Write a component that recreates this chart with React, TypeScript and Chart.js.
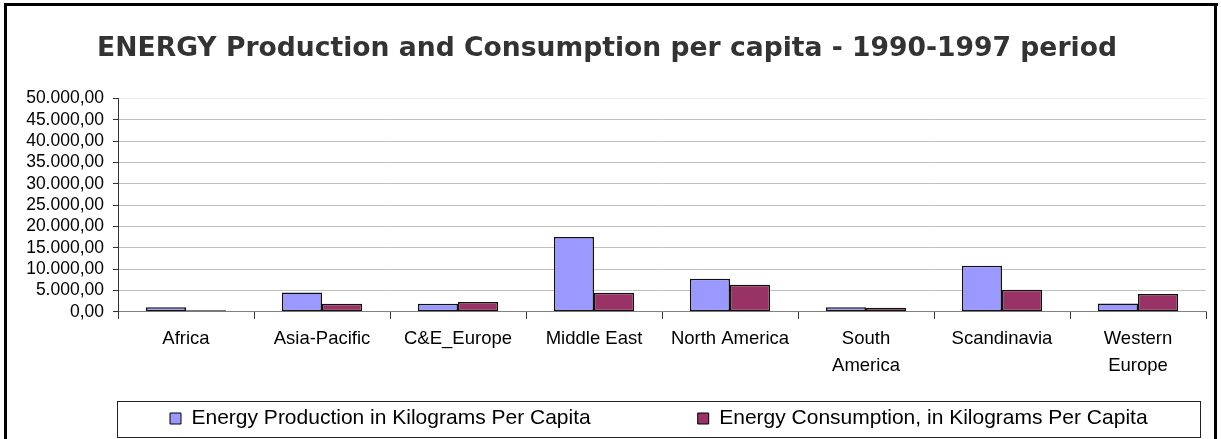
import React, { useEffect, useRef } from 'react';
import { Chart, registerables } from 'chart.js';

Chart.register(...registerables);

const titleText = 'ENERGY Production and Consumption per capita - 1990-1997 period';

const categories = [
  'Africa',
  'Asia-Pacific',
  'C&E_Europe',
  'Middle East',
  'North America',
  'South America',
  'Scandinavia',
  'Western Europe',
];

const xTickLabels = [
  ['Africa'],
  ['Asia-Pacific'],
  ['C&E_Europe'],
  ['Middle East'],
  ['North America'],
  ['South', 'America'],
  ['Scandinavia'],
  ['Western', 'Europe'],
];

const seriesNames = [
  'Energy Production in Kilograms Per Capita',
  'Energy Consumption, in Kilograms Per Capita',
];

const productionValues = [1100, 4560, 1880, 17560, 7760, 1100, 10810, 1970];
const consumptionValues = [400, 1880, 2280, 4470, 6350, 940, 5170, 4160];

const yMin = 0;
const yMax = 50000;
const yStep = 5000;

function formatEU(v: number): string {
  const s = Math.round(v).toString().replace(/\B(?=(\d{3})+(?!\d))/g, '.');
  return s + ',00';
}

const LEGEND_PAD = 107;

const framePlugin = {
  id: 'frame',
  beforeDraw(chart: any) {
    const lg = chart.legend;
    if (lg) {
      lg.left = 170 - LEGEND_PAD;
      lg.right = 4000;
      lg.top = 408 - LEGEND_PAD;
    }
    const ctx = chart.ctx;
    ctx.save();
    ctx.fillStyle = '#ffffff';
    ctx.fillRect(0, 0, chart.width, chart.height);
    ctx.restore();
  },
  afterDraw(chart: any) {
    const ctx = chart.ctx;
    ctx.save();
    // outer frame
    ctx.fillStyle = '#000000';
    ctx.fillRect(4, 3, 1214, 3);
    ctx.fillRect(4, 3, 3, chart.height);
    ctx.fillRect(1214, 3, 3, chart.height);
    // legend frame
    ctx.strokeStyle = '#222222';
    ctx.lineWidth = 1;
    ctx.strokeRect(117.5, 401.5, 1083, 36);
    ctx.restore();
  },
};

export default function App() {
  const canvasRef = useRef<HTMLCanvasElement | null>(null);

  useEffect(() => {
    if (!canvasRef.current) return;
    const chart = new Chart(canvasRef.current, {
      type: 'bar',
      data: {
        labels: xTickLabels as any,
        datasets: [
          {
            label: seriesNames[0],
            data: productionValues,
            backgroundColor: '#9999FF',
            borderColor: '#111111',
            borderWidth: 1.5,
            borderSkipped: false,
            categoryPercentage: 0.59,
            barPercentage: 1.0,
          },
          {
            label: seriesNames[1],
            data: consumptionValues,
            backgroundColor: '#993366',
            borderColor: '#111111',
            borderWidth: 1.5,
            borderSkipped: false,
            categoryPercentage: 0.59,
            barPercentage: 1.0,
          },
        ],
      },
      options: {
        animation: false,
        responsive: true,
        maintainAspectRatio: false,
        layout: { padding: { left: 8, right: 15, top: 0, bottom: 0 } },
        plugins: {
          title: {
            display: true,
            text: titleText,
            color: '#333333',
            font: { family: '"DejaVu Sans", sans-serif', size: 26.6, weight: 'bold', lineHeight: 1.2 },
            padding: { top: 33, bottom: 33.5 },
          },
          legend: {
            display: true,
            position: 'bottom',
            align: 'start',
            maxHeight: 53.5,
            labels: {
              color: '#000000',
              font: { family: '"Liberation Sans", Arial, sans-serif', size: 21 },
              boxWidth: 11,
              boxHeight: 11,
              padding: LEGEND_PAD,
              generateLabels: (c: any) =>
                (Chart.defaults.plugins.legend.labels as any)
                  .generateLabels(c)
                  .map((l: any) => ({ ...l, lineWidth: 1, strokeStyle: '#000000' })),
            },
          },
          tooltip: { enabled: false },
        },
        scales: {
          x: {
            grid: {
              display: true,
              drawOnChartArea: false,
              drawTicks: true,
              tickLength: 7,
              offset: true,
              tickColor: '#333333',
            },
            border: { display: true, color: '#808080', width: 1 },
            ticks: {
              color: '#000000',
              font: { family: '"Liberation Sans", Arial, sans-serif', size: 18.5, lineHeight: 1.45 },
              padding: 6.5,
              maxRotation: 0,
              minRotation: 0,
              autoSkip: false,
            },
          },
          y: {
            min: yMin,
            max: yMax,
            grid: {
              color: (ctx: any) => (ctx.tick && ctx.tick.value === yMax ? '#eeeeee' : '#c0c0c0'),
              lineWidth: 1,
              drawTicks: true,
              tickLength: 5,
              tickColor: '#333333',
            },
            border: { display: true, color: '#333333', width: 1 },
            ticks: {
              stepSize: yStep,
              autoSkip: false,
              color: '#000000',
              font: { family: '"Liberation Sans", Arial, sans-serif', size: 17.5 },
              padding: 9,
              callback: (v: any) => formatEU(Number(v)),
            },
            afterFit: (scale: any) => {
              scale.width = 110;
            },
          },
        },
      },
      plugins: [framePlugin],
    });
    return () => chart.destroy();
  }, []);

  return (
    <div style={{ position: 'fixed', left: 0, top: 0, width: '1221px', height: '439px', background: '#fff' }}>
      <canvas ref={canvasRef} />
    </div>
  );
}
